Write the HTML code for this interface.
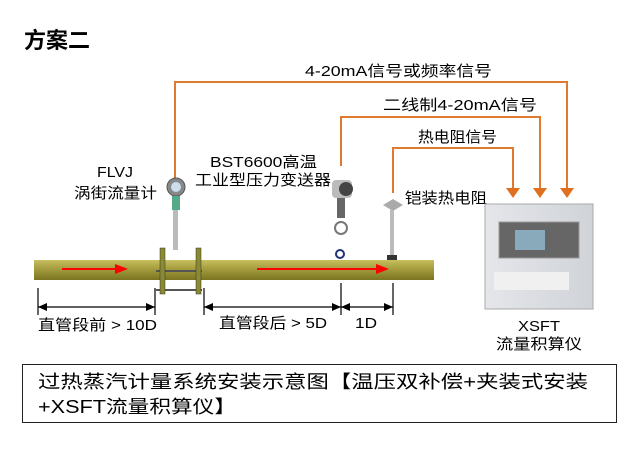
<!DOCTYPE html><html><head><meta charset="utf-8"><style>body{margin:0;background:#fff}svg text{font-family:"Liberation Sans","Noto Sans CJK SC",sans-serif}</style></head><body>
<svg width="639" height="446" viewBox="0 0 639 446" xmlns="http://www.w3.org/2000/svg">
<defs><linearGradient id="p" x1="0" y1="0" x2="0" y2="1"><stop offset="0" stop-color="#c8c060"/><stop offset=".4" stop-color="#a8a040"/><stop offset="1" stop-color="#7a7420"/></linearGradient>
<linearGradient id="b" x1="0" y1="0" x2="1" y2="0"><stop offset="0" stop-color="#e4e6ea"/><stop offset="1" stop-color="#d0d3d8"/></linearGradient></defs>
<text x="24" y="48" font-size="22" font-weight="bold">方案二</text>
<g stroke="#e07a30" stroke-width="2" fill="none">
<path d="M175,210V82H567V196" /><path d="M341,166V117H540V196"/><path d="M393,193V148H513V196"/></g>
<g fill="#e07020"><path d="M560,188h14l-7,10z"/><path d="M533,188h14l-7,10z"/><path d="M506,188h14l-7,10z"/></g>
<text x="305" y="76" font-size="15" textLength="187" lengthAdjust="spacingAndGlyphs">4-20mA信号或频率信号</text>
<text x="383" y="110" font-size="15" textLength="154" lengthAdjust="spacingAndGlyphs">二线制4-20mA信号</text>
<text x="418" y="142" font-size="15" textLength="79" lengthAdjust="spacingAndGlyphs">热电阻信号</text>
<text x="97" y="177" font-size="15" textLength="36" lengthAdjust="spacingAndGlyphs">FLVJ</text>
<text x="74" y="198" font-size="15" textLength="83" lengthAdjust="spacingAndGlyphs">涡街流量计</text>
<text x="210" y="167" font-size="15" textLength="107" lengthAdjust="spacingAndGlyphs">BST6600高温</text>
<text x="195" y="185" font-size="15" textLength="136" lengthAdjust="spacingAndGlyphs">工业型压力变送器</text>
<text x="405" y="203" font-size="15" textLength="82" lengthAdjust="spacingAndGlyphs">铠装热电阻</text>
<rect x="34" y="260" width="400" height="20" fill="url(#p)"/>
<rect x="156" y="270" width="46" height="2" fill="#555"/><rect x="156" y="289" width="46" height="2" fill="#555"/>
<rect x="160" y="248" width="5" height="46" fill="#8a8a30" stroke="#333" stroke-width=".5"/>
<rect x="196" y="248" width="5" height="46" fill="#8a8a30" stroke="#333" stroke-width=".5"/>
<rect x="173" y="210" width="5" height="40" fill="#bbb"/>
<circle cx="176" cy="187" r="9" fill="#888" stroke="#555"/><circle cx="176" cy="187" r="5" fill="#cde"/>
<rect x="172" y="196" width="8" height="14" fill="#5a8"/>
<rect x="332" y="180" width="20" height="18" rx="4" fill="#bbb"/><circle cx="346" cy="189" r="7" fill="#444"/>
<rect x="337" y="198" width="8" height="20" fill="#666"/><circle cx="341" cy="228" r="6" fill="none" stroke="#777" stroke-width="2"/>
<circle cx="340" cy="254" r="4" fill="none" stroke="#237" stroke-width="2"/>
<path d="M383,205l10,-6 10,6 -10,6z" fill="#aaa"/><rect x="390" y="210" width="4" height="48" fill="#bbb"/><rect x="387" y="255" width="10" height="5" fill="#333"/>
<g stroke="#f00" stroke-width="2"><path d="M62,269H120"/><path d="M257,269H380"/></g>
<path d="M115,264l13,5-13,5z" fill="#f00"/><path d="M376,264l13,5-13,5z" fill="#f00"/>
<g stroke="#000" stroke-width="1.2">
<path d="M38,288V315M155,288V315M204,288V315M341,283V315M393,283V315"/>
<path d="M38,307H155M204,307H341M341,307H393"/></g>
<g fill="#000"><path d="M38,307l9,-4v8z"/><path d="M155,307l-9,-4v8z"/><path d="M204,307l9,-4v8z"/><path d="M341,307l-9,-4v8z"/><path d="M341,307l9,-4v8z"/><path d="M393,307l-9,-4v8z"/></g>
<text x="38" y="330" font-size="15" textLength="119" lengthAdjust="spacingAndGlyphs">直管段前 &gt; 10D</text>
<text x="219" y="328" font-size="15" textLength="108" lengthAdjust="spacingAndGlyphs">直管段后 &gt; 5D</text>
<text x="355" y="328" font-size="15" textLength="22" lengthAdjust="spacingAndGlyphs">1D</text>
<rect x="485" y="204" width="108" height="105" fill="url(#b)" stroke="#aaa"/>
<rect x="499" y="222" width="80" height="36" fill="#666" stroke="#999"/><rect x="515" y="230" width="30" height="20" fill="#8ab"/>
<rect x="494" y="272" width="75" height="18" fill="#f0f0f0"/>
<text x="518" y="331" font-size="15" textLength="42" lengthAdjust="spacingAndGlyphs">XSFT</text>
<text x="496" y="349" font-size="15" textLength="86" lengthAdjust="spacingAndGlyphs">流量积算仪</text>
<rect x="22.5" y="364.5" width="594" height="58" fill="none" stroke="#222"/>
<text x="38" y="388" font-size="18" textLength="550" lengthAdjust="spacingAndGlyphs">过热蒸汽计量系统安装示意图【温压双补偿+夹装式安装</text>
<text x="38" y="413" font-size="18" textLength="198" lengthAdjust="spacingAndGlyphs">+XSFT流量积算仪】</text>
</svg></body></html>
